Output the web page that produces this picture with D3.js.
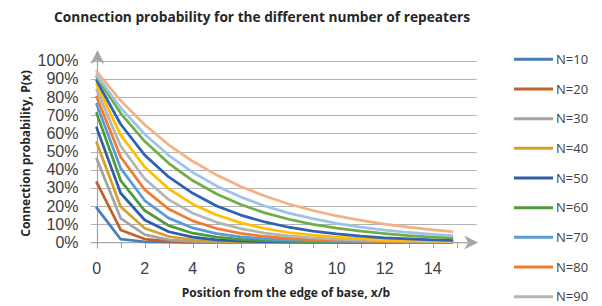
<!DOCTYPE html>
<html>
<head>
    <meta charset="utf-8">
    <title>Connection probability</title>
    <script src="https://d3js.org/d3.v7.min.js"></script>
    <style>
        body { margin: 0; background: #fff; }
        .tick-label { font-family: "Liberation Sans", Arial, sans-serif; font-size: 16px; fill: #404040; }
        .axis-title { font-family: "Open Sans", sans-serif; font-weight: bold; font-size: 12px; fill: #262626; }
        .chart-title { font-family: "Open Sans", sans-serif; font-weight: bold; font-size: 15px; fill: #262626; }
        .legend-label { font-family: "Open Sans", sans-serif; font-size: 13px; fill: #404040; }
    </style>
</head>
<body>
    <div id="chart"></div>
    <script>
        const width = 602;
        const height = 306;

        // x/b positions
        const xValues = [0, 1, 2, 3, 4, 5, 6, 7, 8, 9, 10, 11, 12, 13, 14, 14.8];
        const xTicks = [0, 2, 4, 6, 8, 10, 12, 14];
        const yTicks = [0, 0.1, 0.2, 0.3, 0.4, 0.5, 0.6, 0.7, 0.8, 0.9, 1];

        const seriesNames = ["N=10", "N=20", "N=30", "N=40", "N=50", "N=60", "N=70",
            "N=80", "N=90", "N=100", "N=110", "N=120", "N=130", "N=140"];
        const seriesColors = ["#4a7dba", "#c3612a", "#a3a3a3", "#d4a12a", "#2f5ea8", "#4f9a3c", "#5b9bd5",
            "#ed7d31", "#b5b5b5", "#ffc000", "#2f62b4", "#70ad47", "#9dc3e6", "#f4b183"];

        // probabilities in %
        const n10 = [19, 1.7, 0.3, 0.1, 0, 0, 0, 0, 0, 0, 0, 0, 0, 0, 0, 0];
        const n20 = [33, 6.8, 1.8, 0.5, 0.15, 0.05, 0, 0, 0, 0, 0, 0, 0, 0, 0, 0];
        const n30 = [46, 13.2, 4.2, 1.4, 0.5, 0.2, 0.1, 0, 0, 0, 0, 0, 0, 0, 0, 0];
        const n40 = [55, 19.6, 7.7, 3.2, 1.4, 0.6, 0.3, 0.1, 0.05, 0, 0, 0, 0, 0, 0, 0];
        const n50 = [63, 27, 12.3, 5.8, 2.8, 1.4, 0.7, 0.35, 0.2, 0.1, 0.05, 0, 0, 0, 0, 0];
        const n60 = [71, 34, 17.5, 9.2, 5.0, 2.8, 1.6, 0.9, 0.5, 0.3, 0.2, 0.1, 0.05, 0, 0, 0];
        const n70 = [76, 40.7, 23, 13.3, 7.9, 4.8, 3.0, 1.9, 1.2, 0.8, 0.5, 0.3, 0.2, 0.15, 0.1, 0.1];
        const n80 = [80, 47, 29, 18.3, 11.8, 7.6, 4.9, 3.2, 2.1, 1.4, 0.9, 0.6, 0.4, 0.3, 0.2, 0.15];
        const n90 = [84, 53, 35, 23.5, 16, 11, 7.5, 5.1, 3.5, 2.4, 1.7, 1.2, 0.8, 0.6, 0.4, 0.3];
        const n100 = [87, 59, 41.5, 29.5, 21, 15, 10.7, 7.6, 5.4, 3.9, 2.8, 2.0, 1.4, 1.0, 0.7, 0.6];
        const n110 = [89, 65, 48, 36, 27, 20, 15, 11.2, 8.3, 6.2, 4.6, 3.4, 2.5, 1.9, 1.4, 1.1];
        const n120 = [91, 71, 55.6, 43.5, 34, 26.6, 20.8, 16.2, 12.7, 9.9, 7.8, 6.1, 4.8, 3.7, 2.9, 2.4];
        const n130 = [92, 74, 59.5, 47.9, 38.5, 31, 24.9, 20, 16.1, 13, 10.4, 8.4, 6.7, 5.4, 4.4, 3.7];
        const n140 = [94, 78, 64.7, 53.7, 44.6, 37, 30.7, 25.5, 21.1, 17.5, 14.5, 12.1, 10, 8.3, 6.9, 5.9];

        const allSeries = [n10, n20, n30, n40, n50, n60, n70, n80, n90, n100, n110, n120, n130, n140];
        const legendCount = 9; // legend is cut off at the bottom after N=90

        const svg = d3.select("#chart")
            .append("svg")
            .attr("width", width)
            .attr("height", height);

        const x = d3.scaleLinear().domain([0, 15.83]).range([96.7, 476.7]);
        const y = d3.scaleLinear().domain([0, 1]).range([242.3, 60.7]);

        const defs = svg.append("defs");
        defs.append("marker")
            .attr("id", "arrow")
            .attr("viewBox", "0 0 10 10")
            .attr("refX", 9).attr("refY", 5)
            .attr("markerWidth", 19).attr("markerHeight", 14)
            .attr("markerUnits", "userSpaceOnUse")
            .attr("orient", "auto")
            .append("path")
            .attr("d", "M0,0 L10,5 L0,10 L3,5 Z")
            .attr("fill", "#a6a6a6");

        // horizontal gridlines (with small outside ticks)
        svg.append("g")
            .selectAll("line")
            .data(yTicks.slice(1))
            .join("line")
            .attr("x1", x(0) - 6)
            .attr("x2", x.range()[1])
            .attr("y1", d => Math.round(y(d)) + 0.5)
            .attr("y2", d => Math.round(y(d)) + 0.5)
            .attr("stroke", "#b3b3b3")
            .attr("stroke-width", 1);

        // x axis ticks
        svg.append("g")
            .selectAll("line")
            .data(d3.range(0, 16))
            .join("line")
            .attr("x1", d => Math.round(x(d)) + 0.5)
            .attr("x2", d => Math.round(x(d)) + 0.5)
            .attr("y1", y(0))
            .attr("y2", y(0) + 6)
            .attr("stroke", "#a6a6a6");

        // x axis with arrow
        svg.append("line")
            .attr("x1", x(0) - 6).attr("x2", x.range()[1])
            .attr("y1", Math.round(y(0)) + 0.5).attr("y2", Math.round(y(0)) + 0.5)
            .attr("stroke", "#a6a6a6").attr("stroke-width", 1.25)
            .attr("marker-end", "url(#arrow)");

        // y axis with arrow
        svg.append("line")
            .attr("x1", Math.round(x(0)) + 0.5).attr("x2", Math.round(x(0)) + 0.5)
            .attr("y1", y(0) + 6).attr("y2", 51.5)
            .attr("stroke", "#a6a6a6").attr("stroke-width", 1.25)
            .attr("marker-end", "url(#arrow)");

        // tick labels
        svg.append("g")
            .selectAll("text")
            .data(yTicks)
            .join("text")
            .attr("class", "tick-label")
            .attr("x", 78.5)
            .attr("y", d => y(d))
            .attr("dy", "0.35em")
            .attr("text-anchor", "end")
            .text(d => d3.format(".0%")(d));

        svg.append("g")
            .selectAll("text")
            .data(xTicks)
            .join("text")
            .attr("class", "tick-label")
            .attr("x", d => x(d))
            .attr("y", 273.5)
            .attr("text-anchor", "middle")
            .text(d => d);

        // series lines
        const line = d3.line()
            .x((d, i) => x(xValues[i]))
            .y(d => y(d / 100));

        svg.append("g")
            .selectAll("path")
            .data(allSeries)
            .join("path")
            .attr("d", line)
            .attr("fill", "none")
            .attr("stroke", (d, i) => seriesColors[i])
            .attr("stroke-width", 2.75)
            .attr("stroke-linejoin", "round")
            .attr("stroke-linecap", "round");

        // squeeze a text to the width it has in the picture (the original font is narrow)
        function fitWidth(sel, w) {
            const len = sel.node().getComputedTextLength();
            if (len > w) sel.attr("textLength", w).attr("lengthAdjust", "spacingAndGlyphs");
        }

        // titles
        svg.append("text")
            .attr("class", "chart-title")
            .attr("x", 262)
            .attr("y", 21.5)
            .attr("text-anchor", "middle")
            .text("Connection probability for the different number of repeaters")
            .call(fitWidth, 416);

        svg.append("text")
            .attr("class", "axis-title")
            .attr("transform", "translate(29.5,153.5) rotate(-90)")
            .attr("text-anchor", "middle")
            .text("Connection probability, P(x)")
            .call(fitWidth, 177);

        svg.append("text")
            .attr("class", "axis-title")
            .attr("x", 286)
            .attr("y", 297)
            .attr("text-anchor", "middle")
            .text("Position from the edge of base, x/b")
            .call(fitWidth, 222);

        // legend
        const legend = svg.append("g")
            .selectAll("g")
            .data(seriesNames.slice(0, legendCount))
            .join("g")
            .attr("transform", (d, i) => "translate(514," + (59.3 + i * 29.67) + ")");

        legend.append("line")
            .attr("x1", 0).attr("x2", 39)
            .attr("stroke", (d, i) => seriesColors[i])
            .attr("stroke-width", 3);

        legend.append("text")
            .attr("class", "legend-label")
            .attr("x", 42)
            .attr("dy", "0.35em")
            .text(d => d);
    </script>
</body>
</html>
